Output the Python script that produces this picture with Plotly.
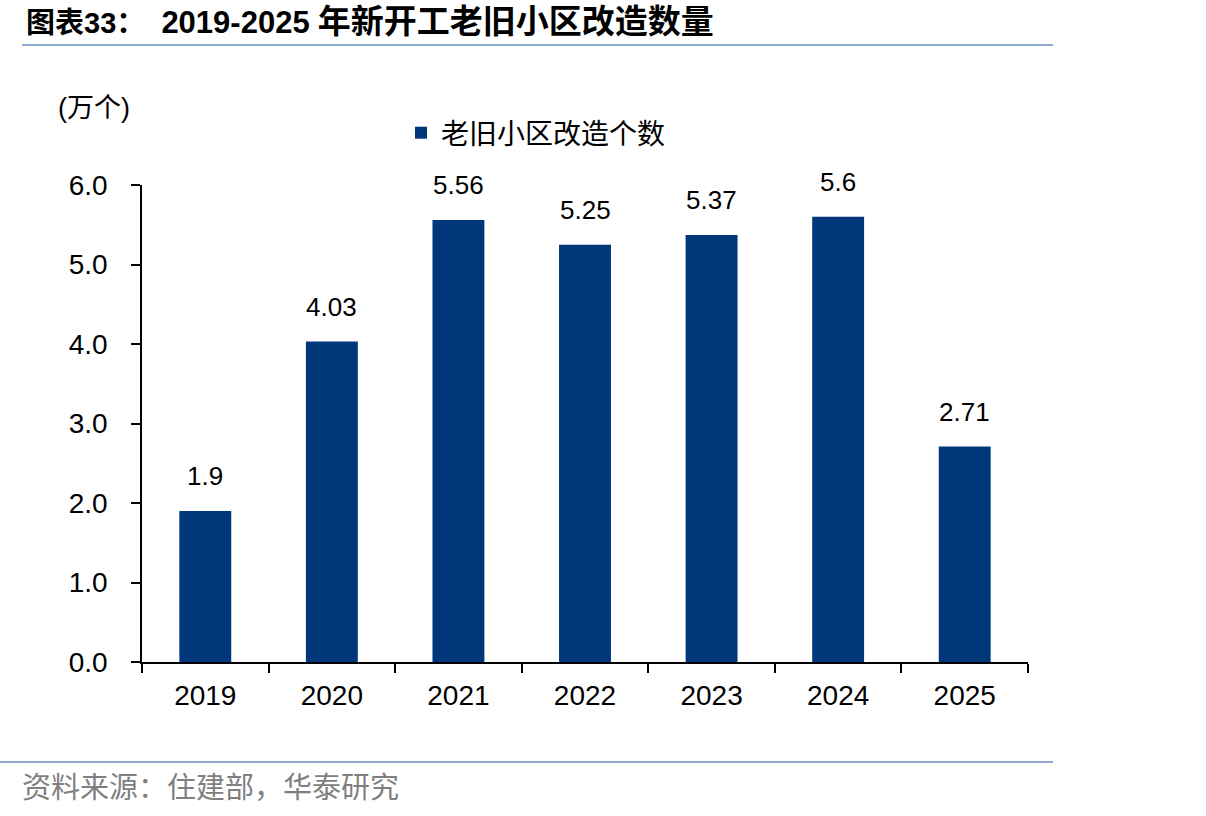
import plotly.graph_objects as go

years = ["2019", "2020", "2021", "2022", "2023", "2024", "2025"]
values = [1.9, 4.03, 5.56, 5.25, 5.37, 5.6, 2.71]
value_labels = ["1.9", "4.03", "5.56", "5.25", "5.37", "5.6", "2.71"]
series_name = "老旧小区改造个数"
title_prefix = "图表33："
title_years = "2019-2025"
title_rest = "年新开工老旧小区改造数量"
unit_text = "(万个)"
source_text = "资料来源：住建部，华泰研究"

W, H = 1206, 816
L, R, T, B = 142, 1028, 185, 662

def px(x):
    return (x - L) / (R - L)

def py(y):
    return (B - y) / (B - T)

BAR = "#00377A"
LINE = "#8FA9CF"
MIX = "Liberation Sans, Arial, Noto Sans CJK SC"
CJK = "Noto Sans CJK SC"
LAT = "Liberation Sans, Arial"

fig = go.Figure()
fig.add_trace(go.Bar(
    x=years, y=values, name=series_name,
    marker=dict(color=BAR, line=dict(width=0)),
    showlegend=True,
))

annotations = []
for i, (yv, lab) in enumerate(zip(values, value_labels)):
    annotations.append(dict(
        x=i, y=yv, xref="x", yref="y", text=lab, showarrow=False,
        yanchor="bottom", yshift=18,
        font=dict(family=LAT, size=26, color="black"),
    ))

nb = "\u00a0"
title_html = (
    "<b>" + title_prefix + nb * 2
    + '<span style="font-size:31px">' + title_years + "</span>" + nb
    + '<span style="font-size:33px">' + title_rest + "</span></b>"
)

annotations += [
    dict(x=px(24), y=py(22), xref="paper", yref="paper", text=title_html,
         showarrow=False, xanchor="left", yanchor="middle",
         font=dict(family=MIX, size=29, color="black")),
    dict(x=px(56), y=py(108), xref="paper", yref="paper", text=unit_text,
         showarrow=False, xanchor="left", yanchor="middle",
         font=dict(family=MIX, size=27, color="black")),
    dict(x=px(20), y=py(785), xref="paper", yref="paper", text=source_text,
         showarrow=False, xanchor="left", yanchor="middle",
         font=dict(family=CJK, size=29, color="#7F7F7F")),
]

shapes = [
    dict(type="line", xref="paper", yref="paper", x0=px(22), x1=px(1053), y0=py(45), y1=py(45),
         line=dict(color=LINE, width=2)),
    dict(type="line", xref="paper", yref="paper", x0=px(0), x1=px(1053), y0=py(762), y1=py(762),
         line=dict(color=LINE, width=2)),
]

fig.update_layout(
    width=W, height=H,
    margin=dict(l=L, r=W - R, t=T, b=H - B, pad=0),
    paper_bgcolor="white", plot_bgcolor="white",
    bargap=0.59,
    showlegend=True,
    legend=dict(x=px(401), y=py(133), xanchor="left", yanchor="middle",
                orientation="h", bgcolor="rgba(0,0,0,0)",
                font=dict(family=CJK, size=28, color="black")),
    annotations=annotations,
    shapes=shapes,
    xaxis=dict(
        type="category", range=[-0.5, len(years) - 0.5], showline=True, linecolor="black", linewidth=1.5,
        ticks="outside", tickson="boundaries", ticklen=9, tickwidth=1.5, tickcolor="black",
        showgrid=False, zeroline=False, tickangle=0, ticklabelstandoff=8,
        tickfont=dict(family=LAT, size=28, color="black"),
    ),
    yaxis=dict(
        range=[0, 6], dtick=1, tickformat=".1f", showline=True, linecolor="black", linewidth=1.5,
        ticks="outside", ticklen=9, tickwidth=1.5, tickcolor="black",
        showgrid=False, zeroline=False, ticklabelstandoff=18,
        tickfont=dict(family=LAT, size=28, color="black"),
    ),
)

fig.write_html("out.html")
